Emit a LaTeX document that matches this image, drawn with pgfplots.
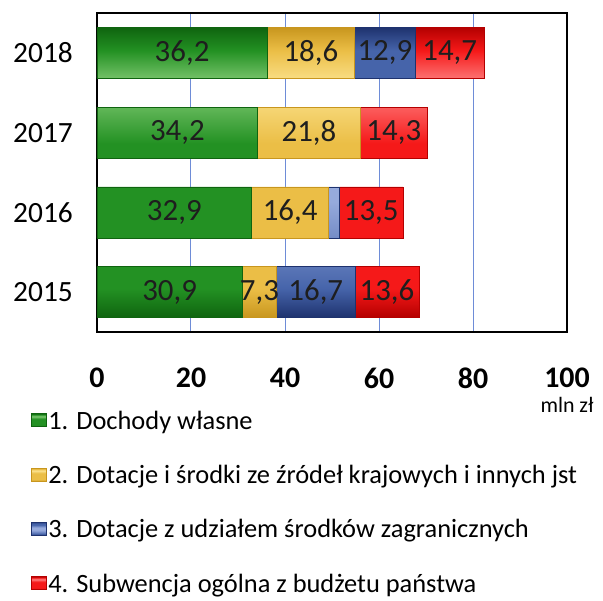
\documentclass[border=0pt]{standalone}
\usepackage{fontspec}
\setmainfont{Carlito}
\usepackage{pgfplots}
\pgfplotsset{compat=1.18}

\definecolor{gridc}{RGB}{110,140,215}
\definecolor{gD}{RGB}{15,100,15}
\definecolor{gM}{RGB}{35,145,35}
\definecolor{gL}{RGB}{135,205,120}
\definecolor{yD}{RGB}{200,150,30}
\definecolor{yM}{RGB}{235,190,70}
\definecolor{yL}{RGB}{252,228,145}
\definecolor{bD}{RGB}{30,50,110}
\definecolor{bM}{RGB}{70,100,170}
\definecolor{bL}{RGB}{150,170,220}
\definecolor{rD}{RGB}{180,0,0}
\definecolor{rM}{RGB}{245,25,25}
\definecolor{rL}{RGB}{255,135,135}
\definecolor{labc}{RGB}{30,30,30}

\pgfdeclareverticalshading{gshade}{100bp}{color(0bp)=(gD); color(25bp)=(gD); color(30bp)=(gM); color(55bp)=(gM); color(65bp)=(gL); color(71bp)=(gM); color(75bp)=(gD); color(100bp)=(gD)}
\pgfdeclareverticalshading{yshade}{100bp}{color(0bp)=(yD); color(25bp)=(yD); color(30bp)=(yM); color(55bp)=(yM); color(65bp)=(yL); color(71bp)=(yM); color(75bp)=(yD); color(100bp)=(yD)}
\pgfdeclareverticalshading{bshade}{100bp}{color(0bp)=(bD); color(25bp)=(bD); color(30bp)=(bM); color(45bp)=(bL); color(55bp)=(bL); color(65bp)=(bM); color(71bp)=(bM); color(75bp)=(bD); color(100bp)=(bD)}
\pgfdeclareverticalshading{rshade}{100bp}{color(0bp)=(rD); color(25bp)=(rD); color(30bp)=(rM); color(55bp)=(rM); color(65bp)=(rL); color(71bp)=(rM); color(75bp)=(rD); color(100bp)=(rD)}

\pgfplotsset{
  common/.style={
    scale only axis, width=470bp, height=319bp,
    xmin=0, xmax=100, ymin=-0.5, ymax=3.5,
  }
}

\begin{document}
\begin{tikzpicture}
\begin{axis}[
  common,
  xbar stacked, bar width=51bp,
  ytick={0,1,2,3}, yticklabels={2015,2016,2017,2018},
  xtick={0,20,40,60,80,100},
  xmajorgrids, grid style={color=gridc, line width=1bp},
  major tick length=0pt,
  axis line style={line width=1.3bp, black},
  /pgf/number format/assume math mode=true,
  xticklabel style={font=\fontsize{30}{30}\selectfont\bfseries, anchor=north, inner sep=0pt, yshift=-36bp},
  yticklabel style={font=\fontsize{29.5}{29.5}\selectfont, anchor=east, inner sep=0pt, xshift=-24bp},
  legend style={draw=none, fill=none, at={(-0.141,-0.24)}, anchor=north west,
    font=\fontsize{26.5}{26.5}\selectfont, row sep=30.5bp, inner sep=0pt,
    nodes={inner sep=2bp}},
  legend cell align=left,
  legend image code/.code={\draw[#1, line width=0.4bp] (0bp,-6bp) rectangle (15bp,7bp);},
]
\addplot[shading=gshade, draw=gD, line width=0.6bp] coordinates {(30.9,0) (32.9,1) (34.2,2) (36.2,3)};
\addplot[shading=yshade, draw=yD, line width=0.6bp] coordinates {(7.3,0) (16.4,1) (21.8,2) (18.6,3)};
\addplot[shading=bshade, draw=bD, line width=0.6bp] coordinates {(16.7,0) (2.3,1) (0,2) (12.9,3)};
\addplot[shading=rshade, draw=rD, line width=0.6bp] coordinates {(13.6,0) (13.5,1) (14.3,2) (14.7,3)};
\legend{1. Dochody własne, 2. Dotacje i środki ze źródeł krajowych i innych jst, 3. Dotacje z udziałem środków zagranicznych, 4. Subwencja ogólna z budżetu państwa}
\end{axis}
\begin{axis}[
  common, hide axis, clip=false,
]
\addplot[only marks, mark=none, point meta=explicit symbolic,
  nodes near coords,
  every node near coord/.style={anchor=center, font=\fontsize{31}{31}\selectfont, text=labc, inner sep=0pt}]
  table[x=x, y=y, meta=lab, row sep=\\] {
  x y lab \\
  18.1 3 36,2 \\
  45.5 3 18,6 \\
  61.25 3 12,9 \\
  75.05 3 14,7 \\
  17.1 2 34,2 \\
  45.1 2 21,8 \\
  63.15 2 14,3 \\
  16.45 1 32,9 \\
  41.1 1 16,4 \\
  58.35 1 13,5 \\
  15.45 0 30,9 \\
  34.55 0 7,3 \\
  46.55 0 16,7 \\
  61.7 0 13,6 \\
  };
\node[anchor=north east, font=\fontsize{22}{22}\selectfont, inner sep=0pt] at (axis description cs:1.057,-0.205) {mln zł};
\end{axis}
\pgfresetboundingbox
\useasboundingbox (-97bp,-269bp) rectangle (506bp,332bp);
\end{tikzpicture}
\end{document}
